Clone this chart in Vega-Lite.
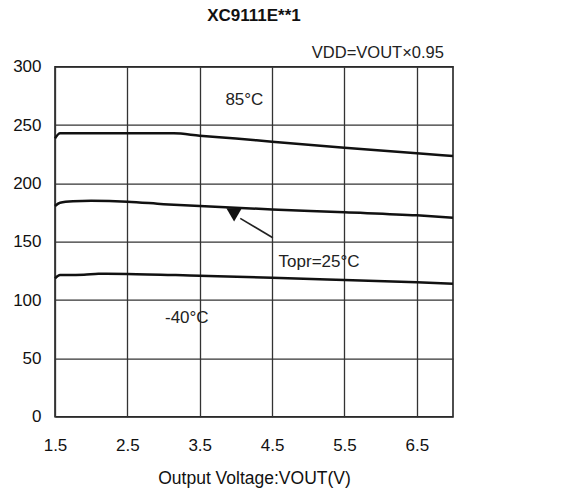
{
  "$schema": "https://vega.github.io/schema/vega-lite/v6.json",
  "autosize": "none",
  "width": 398,
  "height": 350,
  "padding": {"left": 55, "top": 66.7, "right": 133, "bottom": 73.3},
  "background": "white",
  "config": {
    "font": "Liberation Sans",
    "view": {"stroke": "#222", "strokeWidth": 1.6},
    "title": {"font": "Liberation Sans", "fontSize": 17, "fontWeight": "bold", "color": "#111"}
  },
  "title": {"text": "XC9111E**1", "anchor": "middle", "frame": "group", "offset": 20},
  "datasets": {
    "curves": [
      {"series": "85", "vout": 1.5, "current": 238.6},
      {"series": "85", "vout": 1.57, "current": 242.9},
      {"series": "85", "vout": 2.0, "current": 243.0},
      {"series": "85", "vout": 2.5, "current": 243.0},
      {"series": "85", "vout": 3.14, "current": 242.9},
      {"series": "85", "vout": 3.5, "current": 240.9},
      {"series": "85", "vout": 4.0, "current": 238.4},
      {"series": "85", "vout": 4.5, "current": 235.7},
      {"series": "85", "vout": 5.5, "current": 230.6},
      {"series": "85", "vout": 6.5, "current": 225.8},
      {"series": "85", "vout": 7.0, "current": 223.5},
      {"series": "25", "vout": 1.5, "current": 180.6},
      {"series": "25", "vout": 1.57, "current": 183.4},
      {"series": "25", "vout": 1.75, "current": 184.6},
      {"series": "25", "vout": 2.0, "current": 185.0},
      {"series": "25", "vout": 2.5, "current": 184.3},
      {"series": "25", "vout": 3.0, "current": 182.2},
      {"series": "25", "vout": 3.5, "current": 180.5},
      {"series": "25", "vout": 4.5, "current": 177.7},
      {"series": "25", "vout": 5.5, "current": 175.2},
      {"series": "25", "vout": 6.5, "current": 172.6},
      {"series": "25", "vout": 7.0, "current": 170.6},
      {"series": "-40", "vout": 1.5, "current": 118.6},
      {"series": "-40", "vout": 1.57, "current": 121.4},
      {"series": "-40", "vout": 1.9, "current": 121.7},
      {"series": "-40", "vout": 2.1, "current": 122.6},
      {"series": "-40", "vout": 2.5, "current": 122.4},
      {"series": "-40", "vout": 3.5, "current": 120.8},
      {"series": "-40", "vout": 4.5, "current": 119.2},
      {"series": "-40", "vout": 5.5, "current": 117.2},
      {"series": "-40", "vout": 6.5, "current": 115.2},
      {"series": "-40", "vout": 7.0, "current": 114.0}
    ],
    "labels": [
      {"vout": 3.855, "current": 271.5, "label": "85°C"},
      {"vout": 4.59, "current": 132.9, "label": "Topr=25°C"},
      {"vout": 3.02, "current": 84.9, "label": "-40°C"}
    ],
    "note": [
      {"vout": 6.874, "current": 311.5, "label": "VDD=VOUT×0.95"}
    ],
    "arrow": [
      {"vout": 4.51, "current": 153.4, "vout2": 4.06, "current2": 170.0}
    ],
    "head": [
      {"vout": 3.975, "current": 173.0}
    ]
  },
  "layer": [
    {
      "data": {"name": "curves"},
      "mark": {"type": "line", "color": "#111", "strokeWidth": 2.5, "interpolate": "monotone"},
      "encoding": {
        "x": {
          "field": "vout", "type": "quantitative",
          "scale": {"domain": [1.5, 7.0], "nice": false, "zero": false},
          "axis": {
            "values": [1.5, 2.5, 3.5, 4.5, 5.5, 6.5],
            "format": ".1f",
            "title": "Output Voltage:VOUT(V)",
            "titleFont": "Liberation Sans",
            "titleFontSize": 17.5,
            "titleFontWeight": "normal",
            "titleColor": "#111",
            "titlePadding": 16,
            "labelFont": "Liberation Sans",
            "labelFontSize": 17,
            "labelColor": "#111",
            "labelPadding": 21,
            "labelFlush": false,
            "labelOverlap": false,
            "ticks": false,
            "tickSize": 0,
            "domain": false,
            "grid": true,
            "gridColor": "#333",
            "gridWidth": 1.3,
            "gridOpacity": 1
          }
        },
        "y": {
          "field": "current", "type": "quantitative",
          "scale": {"domain": [0, 300], "nice": false},
          "axis": {
            "values": [0, 50, 100, 150, 200, 250, 300],
            "title": null,
            "labelFont": "Liberation Sans",
            "labelFontSize": 17,
            "labelColor": "#111",
            "labelPadding": 14,
            "labelFlush": false,
            "ticks": false,
            "tickSize": 0,
            "domain": false,
            "grid": true,
            "gridColor": "#333",
            "gridWidth": 1.3,
            "gridOpacity": 1
          }
        },
        "detail": {"field": "series", "type": "nominal"}
      }
    },
    {
      "data": {"name": "labels"},
      "mark": {"type": "text", "align": "left", "baseline": "middle", "font": "Liberation Sans", "fontSize": 17, "color": "#222"},
      "encoding": {
        "x": {"field": "vout", "type": "quantitative"},
        "y": {"field": "current", "type": "quantitative"},
        "text": {"field": "label", "type": "nominal"}
      }
    },
    {
      "data": {"name": "note"},
      "mark": {"type": "text", "align": "right", "baseline": "middle", "font": "Liberation Sans", "fontSize": 16.5, "color": "#222"},
      "encoding": {
        "x": {"field": "vout", "type": "quantitative"},
        "y": {"field": "current", "type": "quantitative"},
        "text": {"field": "label", "type": "nominal"}
      }
    },
    {
      "data": {"name": "arrow"},
      "mark": {"type": "rule", "color": "#222", "strokeWidth": 1.6},
      "encoding": {
        "x": {"field": "vout", "type": "quantitative"},
        "y": {"field": "current", "type": "quantitative"},
        "x2": {"field": "vout2"},
        "y2": {"field": "current2"}
      }
    },
    {
      "data": {"name": "head"},
      "mark": {"type": "point", "shape": "triangle-down", "filled": true, "color": "#111", "opacity": 1, "size": 240},
      "encoding": {
        "x": {"field": "vout", "type": "quantitative"},
        "y": {"field": "current", "type": "quantitative"}
      }
    }
  ]
}
